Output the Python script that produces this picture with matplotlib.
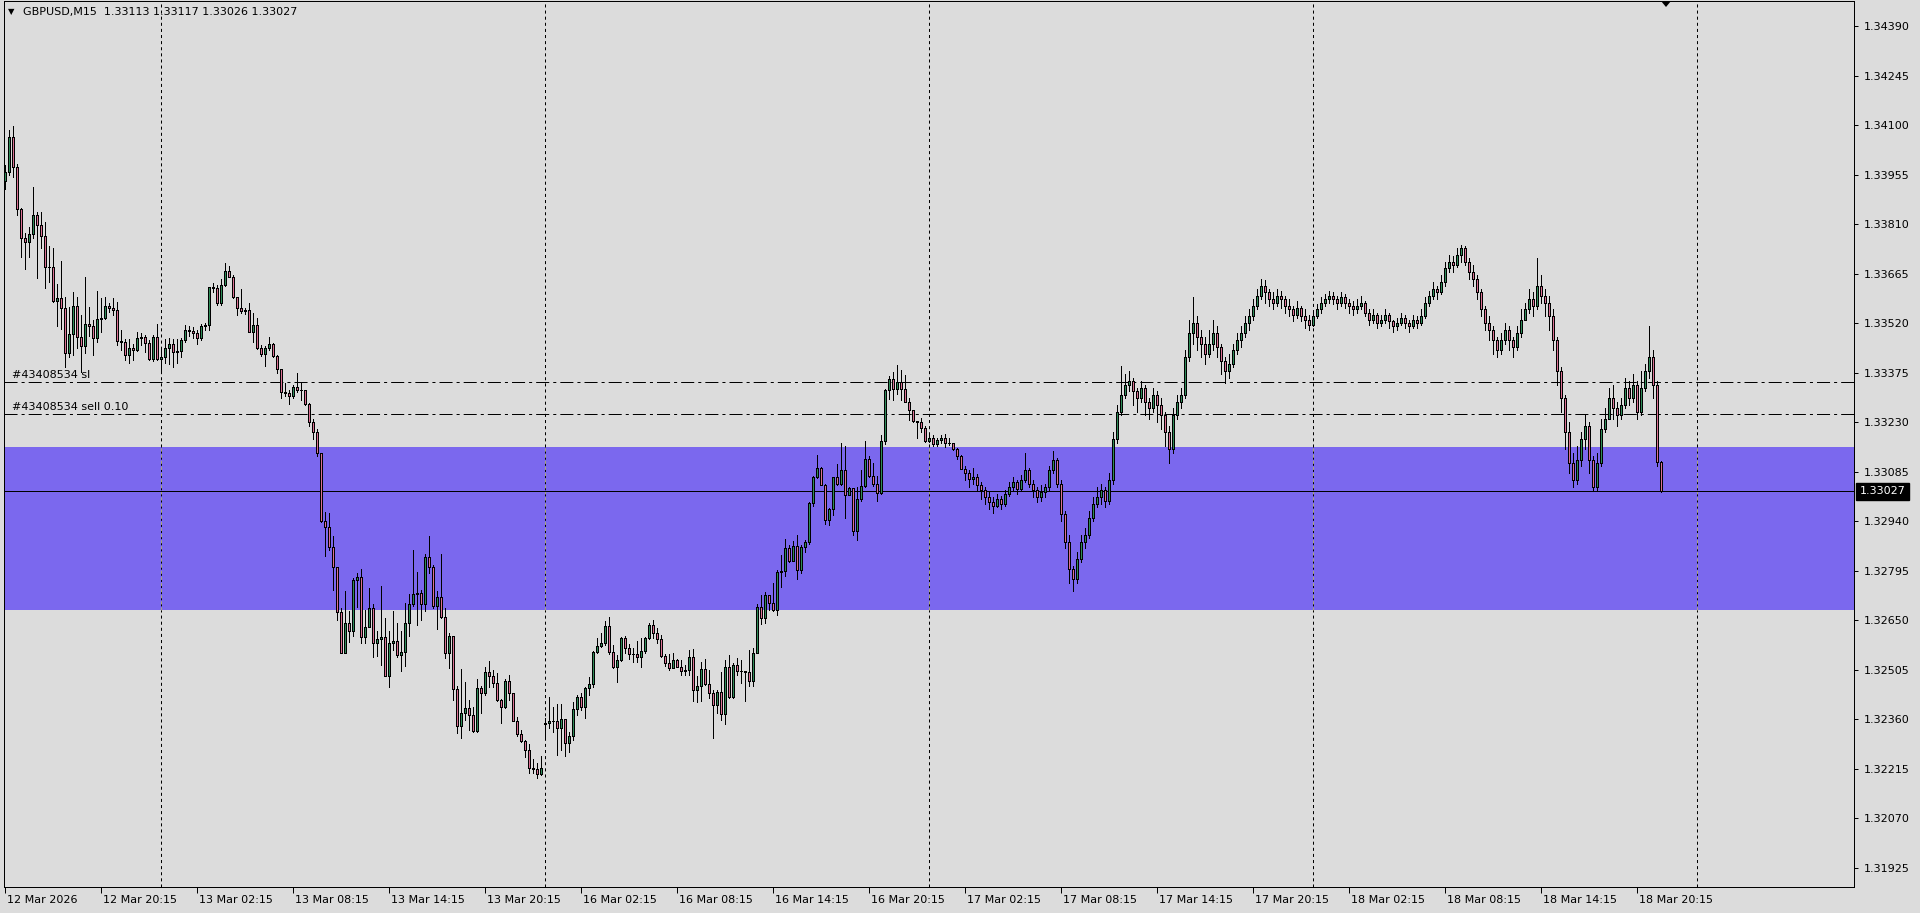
import matplotlib
matplotlib.use("Agg")
import matplotlib.pyplot as plt
from matplotlib.patches import Rectangle, Polygon
from matplotlib.collections import LineCollection, PatchCollection
import matplotlib.transforms as mtransforms

plt.rcParams['font.family'] = ['DejaVu Sans']
plt.rcParams['lines.scale_dashes'] = False

# ---------------- data ----------------
header_text = "GBPUSD,M15  1.33113 1.33117 1.33026 1.33027"
first_open = 1.33937
gap_opens = {135: 1.32345}

close_prices = [
1.33963, 1.34064, 1.33976, 1.33853, 1.33770, 1.33756, 1.33780, 1.33836, 1.33807, 1.33775,
1.33685, 1.33685, 1.33584, 1.33592, 1.33563, 1.33433, 1.33487, 1.33571, 1.33480, 1.33452,
1.33516, 1.33511, 1.33477, 1.33532, 1.33534, 1.33569, 1.33563, 1.33557, 1.33468, 1.33465,
1.33426, 1.33446, 1.33442, 1.33475, 1.33479, 1.33462, 1.33414, 1.33479, 1.33416, 1.33421,
1.33446, 1.33458, 1.33436, 1.33438, 1.33470, 1.33500, 1.33498, 1.33492, 1.33475, 1.33510,
1.33514, 1.33625, 1.33622, 1.33580, 1.33632, 1.33673, 1.33656, 1.33595, 1.33563, 1.33556,
1.33557, 1.33495, 1.33514, 1.33446, 1.33429, 1.33448, 1.33458, 1.33425, 1.33385, 1.33317,
1.33314, 1.33307, 1.33334, 1.33324, 1.33323, 1.33282, 1.33230, 1.33200, 1.33140, 1.32941,
1.32922, 1.32863, 1.32805, 1.32673, 1.32555, 1.32641, 1.32619, 1.32768, 1.32776, 1.32600,
1.32629, 1.32686, 1.32584, 1.32594, 1.32600, 1.32487, 1.32582, 1.32590, 1.32548, 1.32556,
1.32641, 1.32697, 1.32726, 1.32729, 1.32697, 1.32834, 1.32807, 1.32690, 1.32717, 1.32660,
1.32555, 1.32604, 1.32448, 1.32341, 1.32377, 1.32392, 1.32371, 1.32324, 1.32451, 1.32436,
1.32497, 1.32487, 1.32467, 1.32416, 1.32395, 1.32472, 1.32436, 1.32356, 1.32316, 1.32296,
1.32270, 1.32216, 1.32215, 1.32199, 1.32216, 1.32350, 1.32355, 1.32354, 1.32333, 1.32361,
1.32291, 1.32311, 1.32390, 1.32424, 1.32397, 1.32450, 1.32463, 1.32556, 1.32574, 1.32584,
1.32633, 1.32558, 1.32512, 1.32533, 1.32597, 1.32567, 1.32550, 1.32550, 1.32543, 1.32560,
1.32597, 1.32636, 1.32612, 1.32594, 1.32545, 1.32524, 1.32511, 1.32534, 1.32514, 1.32502,
1.32504, 1.32543, 1.32444, 1.32457, 1.32506, 1.32463, 1.32436, 1.32401, 1.32441, 1.32375,
1.32512, 1.32424, 1.32519, 1.32502, 1.32502, 1.32499, 1.32473, 1.32555, 1.32688, 1.32656,
1.32724, 1.32699, 1.32680, 1.32792, 1.32795, 1.32861, 1.32823, 1.32868, 1.32797, 1.32863,
1.32878, 1.32992, 1.33070, 1.33097, 1.33047, 1.32943, 1.32975, 1.33068, 1.33048, 1.33091,
1.33016, 1.33036, 1.32911, 1.33004, 1.33042, 1.33123, 1.33073, 1.33048, 1.33021, 1.33174,
1.33324, 1.33356, 1.33328, 1.33348, 1.33328, 1.33289, 1.33265, 1.33234, 1.33231, 1.33213,
1.33175, 1.33184, 1.33167, 1.33177, 1.33182, 1.33170, 1.33170, 1.33150, 1.33131, 1.33094,
1.33080, 1.33062, 1.33070, 1.33045, 1.33030, 1.33012, 1.32995, 1.32985, 1.33005, 1.32990,
1.33020, 1.33040, 1.33055, 1.33035, 1.33060, 1.33090, 1.33050, 1.33030, 1.33010, 1.33025,
1.33040, 1.33090, 1.33120, 1.33050, 1.32960, 1.32880, 1.32800, 1.32770, 1.32830, 1.32880,
1.32900, 1.32950, 1.32990, 1.33010, 1.33030, 1.33000, 1.33060, 1.33180, 1.33260, 1.33310,
1.33340, 1.33350, 1.33320, 1.33300, 1.33330, 1.33290, 1.33270, 1.33310, 1.33280, 1.33250,
1.33200, 1.33150, 1.33250, 1.33290, 1.33310, 1.33420, 1.33490, 1.33520, 1.33480, 1.33460,
1.33430, 1.33460, 1.33490, 1.33450, 1.33410, 1.33380, 1.33400, 1.33440, 1.33470, 1.33490,
1.33520, 1.33540, 1.33570, 1.33600, 1.33630, 1.33610, 1.33590, 1.33580, 1.33600, 1.33590,
1.33570, 1.33560, 1.33545, 1.33565, 1.33540, 1.33530, 1.33515, 1.33540, 1.33560, 1.33580,
1.33590, 1.33600, 1.33590, 1.33580, 1.33595, 1.33580, 1.33570, 1.33560, 1.33570, 1.33580,
1.33550, 1.33530, 1.33545, 1.33520, 1.33530, 1.33545, 1.33525, 1.33510, 1.33520, 1.33535,
1.33520, 1.33510, 1.33530, 1.33520, 1.33540, 1.33580, 1.33600, 1.33620, 1.33610, 1.33640,
1.33680, 1.33700, 1.33690, 1.33720, 1.33740, 1.33700, 1.33670, 1.33650, 1.33610, 1.33560,
1.33520, 1.33500, 1.33470, 1.33440, 1.33470, 1.33500, 1.33470, 1.33450, 1.33490, 1.33530,
1.33560, 1.33590, 1.33570, 1.33630, 1.33600, 1.33580, 1.33540, 1.33470, 1.33380, 1.33300,
1.33200, 1.33110, 1.33060, 1.33120, 1.33180, 1.33220, 1.33120, 1.33040, 1.33110, 1.33210,
1.33240, 1.33300, 1.33270, 1.33250, 1.33280, 1.33330, 1.33300, 1.33340, 1.33260, 1.33330,
1.33380, 1.33420, 1.33340, 1.33113, 1.33027,
]

high_prices = [
1.33983, 1.34085, 1.34097, 1.33985, 1.33856, 1.33783, 1.33802, 1.33919, 1.33846, 1.33844,
1.33817, 1.33745, 1.33741, 1.33633, 1.33702, 1.33597, 1.33568, 1.33612, 1.33597, 1.33543,
1.33654, 1.33566, 1.33529, 1.33614, 1.33593, 1.33597, 1.33578, 1.33592, 1.33582, 1.33500,
1.33473, 1.33473, 1.33460, 1.33493, 1.33490, 1.33485, 1.33470, 1.33485, 1.33517, 1.33447,
1.33472, 1.33475, 1.33474, 1.33472, 1.33475, 1.33514, 1.33511, 1.33509, 1.33500, 1.33517,
1.33521, 1.33627, 1.33638, 1.33632, 1.33648, 1.33695, 1.33687, 1.33661, 1.33597, 1.33619,
1.33563, 1.33580, 1.33549, 1.33534, 1.33456, 1.33453, 1.33478, 1.33461, 1.33427, 1.33385,
1.33344, 1.33324, 1.33339, 1.33373, 1.33346, 1.33322, 1.33285, 1.33240, 1.33210, 1.33140,
1.32968, 1.32965, 1.32895, 1.32807, 1.32685, 1.32736, 1.32678, 1.32773, 1.32787, 1.32799,
1.32680, 1.32743, 1.32698, 1.32617, 1.32750, 1.32656, 1.32617, 1.32677, 1.32641, 1.32619,
1.32700, 1.32726, 1.32856, 1.32791, 1.32739, 1.32844, 1.32895, 1.32812, 1.32734, 1.32844,
1.32685, 1.32612, 1.32604, 1.32457, 1.32506, 1.32468, 1.32416, 1.32397, 1.32477, 1.32457,
1.32514, 1.32530, 1.32504, 1.32494, 1.32418, 1.32477, 1.32489, 1.32438, 1.32367, 1.32328,
1.32299, 1.32287, 1.32242, 1.32233, 1.32252, 1.32363, 1.32426, 1.32397, 1.32404, 1.32404,
1.32360, 1.32323, 1.32411, 1.32431, 1.32436, 1.32455, 1.32484, 1.32561, 1.32597, 1.32613,
1.32648, 1.32658, 1.32577, 1.32548, 1.32602, 1.32604, 1.32579, 1.32569, 1.32589, 1.32597,
1.32602, 1.32643, 1.32651, 1.32626, 1.32607, 1.32551, 1.32551, 1.32553, 1.32536, 1.32532,
1.32519, 1.32563, 1.32565, 1.32485, 1.32526, 1.32535, 1.32504, 1.32446, 1.32444, 1.32499,
1.32532, 1.32548, 1.32524, 1.32538, 1.32532, 1.32502, 1.32563, 1.32568, 1.32698, 1.32724,
1.32732, 1.32724, 1.32758, 1.32797, 1.32841, 1.32887, 1.32870, 1.32883, 1.32900, 1.32870,
1.32885, 1.32997, 1.33073, 1.33135, 1.33099, 1.33050, 1.32977, 1.33070, 1.33106, 1.33170,
1.33161, 1.33040, 1.33038, 1.33040, 1.33089, 1.33174, 1.33131, 1.33109, 1.33073, 1.33192,
1.33328, 1.33365, 1.33377, 1.33397, 1.33382, 1.33367, 1.33301, 1.33234, 1.33233, 1.33243,
1.33219, 1.33192, 1.33192, 1.33182, 1.33192, 1.33194, 1.33182, 1.33170, 1.33153, 1.33135,
1.33100, 1.33090, 1.33095, 1.33078, 1.33055, 1.33040, 1.33025, 1.33010, 1.33020, 1.33015,
1.33030, 1.33055, 1.33070, 1.33060, 1.33075, 1.33140, 1.33095, 1.33060, 1.33040, 1.33045,
1.33050, 1.33100, 1.33145, 1.33125, 1.33060, 1.32970, 1.32900, 1.32810, 1.32850, 1.32900,
1.32920, 1.32970, 1.33010, 1.33040, 1.33050, 1.33040, 1.33080, 1.33200, 1.33280, 1.33395,
1.33370, 1.33380, 1.33360, 1.33330, 1.33350, 1.33340, 1.33300, 1.33330, 1.33320, 1.33300,
1.33260, 1.33220, 1.33270, 1.33310, 1.33330, 1.33440, 1.33530, 1.33595, 1.33540, 1.33500,
1.33480, 1.33500, 1.33530, 1.33510, 1.33460, 1.33420, 1.33430, 1.33460, 1.33490, 1.33510,
1.33540, 1.33560, 1.33590, 1.33620, 1.33650, 1.33645, 1.33620, 1.33610, 1.33620, 1.33615,
1.33600, 1.33590, 1.33570, 1.33585, 1.33570, 1.33560, 1.33545, 1.33555, 1.33575, 1.33595,
1.33605, 1.33615, 1.33610, 1.33600, 1.33610, 1.33605, 1.33590, 1.33585, 1.33590, 1.33600,
1.33585, 1.33560, 1.33560, 1.33550, 1.33545, 1.33560, 1.33550, 1.33530, 1.33535, 1.33550,
1.33545, 1.33530, 1.33545, 1.33540, 1.33560, 1.33595, 1.33615, 1.33640, 1.33630, 1.33660,
1.33700, 1.33720, 1.33715, 1.33740, 1.33750, 1.33745, 1.33710, 1.33690, 1.33660, 1.33620,
1.33570, 1.33540, 1.33510, 1.33480, 1.33490, 1.33520, 1.33510, 1.33480, 1.33510, 1.33560,
1.33580, 1.33620, 1.33610, 1.33710, 1.33660, 1.33620, 1.33600, 1.33560, 1.33480, 1.33390,
1.33310, 1.33230, 1.33140, 1.33160, 1.33200, 1.33250, 1.33230, 1.33130, 1.33140, 1.33240,
1.33270, 1.33330, 1.33340, 1.33290, 1.33300, 1.33360, 1.33350, 1.33370, 1.33350, 1.33380,
1.33400, 1.33510, 1.33440, 1.33350, 1.33117,
]

low_prices = [
1.33914, 1.33953, 1.33948, 1.33836, 1.33714, 1.33677, 1.33714, 1.33768, 1.33653, 1.33739,
1.33623, 1.33641, 1.33582, 1.33512, 1.33504, 1.33390, 1.33421, 1.33426, 1.33446, 1.33377,
1.33433, 1.33482, 1.33426, 1.33465, 1.33495, 1.33532, 1.33553, 1.33543, 1.33456, 1.33441,
1.33412, 1.33402, 1.33412, 1.33438, 1.33456, 1.33436, 1.33412, 1.33409, 1.33412, 1.33377,
1.33402, 1.33400, 1.33390, 1.33402, 1.33422, 1.33466, 1.33482, 1.33475, 1.33458, 1.33470,
1.33500, 1.33500, 1.33612, 1.33573, 1.33573, 1.33629, 1.33654, 1.33592, 1.33544, 1.33549,
1.33546, 1.33495, 1.33466, 1.33443, 1.33424, 1.33395, 1.33441, 1.33422, 1.33375, 1.33300,
1.33305, 1.33283, 1.33300, 1.33319, 1.33295, 1.33280, 1.33220, 1.33180, 1.33130, 1.32936,
1.32838, 1.32854, 1.32739, 1.32649, 1.32553, 1.32555, 1.32587, 1.32604, 1.32688, 1.32584,
1.32584, 1.32668, 1.32543, 1.32545, 1.32519, 1.32485, 1.32455, 1.32563, 1.32541, 1.32502,
1.32516, 1.32604, 1.32690, 1.32636, 1.32649, 1.32678, 1.32789, 1.32685, 1.32623, 1.32655,
1.32540, 1.32509, 1.32415, 1.32319, 1.32304, 1.32358, 1.32329, 1.32321, 1.32321, 1.32379,
1.32431, 1.32453, 1.32453, 1.32414, 1.32350, 1.32392, 1.32416, 1.32354, 1.32311, 1.32294,
1.32250, 1.32203, 1.32201, 1.32187, 1.32197, 1.32309, 1.32333, 1.32323, 1.32255, 1.32270,
1.32253, 1.32265, 1.32299, 1.32372, 1.32387, 1.32363, 1.32431, 1.32455, 1.32553, 1.32572,
1.32577, 1.32551, 1.32509, 1.32470, 1.32530, 1.32553, 1.32535, 1.32526, 1.32528, 1.32514,
1.32553, 1.32594, 1.32597, 1.32582, 1.32543, 1.32516, 1.32504, 1.32509, 1.32512, 1.32490,
1.32490, 1.32490, 1.32412, 1.32409, 1.32414, 1.32460, 1.32421, 1.32304, 1.32377, 1.32358,
1.32346, 1.32421, 1.32421, 1.32490, 1.32467, 1.32412, 1.32457, 1.32457, 1.32553, 1.32639,
1.32643, 1.32680, 1.32678, 1.32665, 1.32746, 1.32780, 1.32819, 1.32824, 1.32770, 1.32787,
1.32850, 1.32872, 1.32985, 1.33065, 1.33045, 1.32933, 1.32928, 1.32959, 1.33045, 1.33045,
1.32950, 1.33016, 1.32899, 1.32884, 1.32999, 1.33040, 1.33070, 1.33043, 1.33000, 1.33018,
1.33167, 1.33299, 1.33294, 1.33311, 1.33294, 1.33289, 1.33236, 1.33231, 1.33182, 1.33202,
1.33172, 1.33172, 1.33161, 1.33161, 1.33170, 1.33158, 1.33162, 1.33148, 1.33121, 1.33094,
1.33060, 1.33040, 1.33050, 1.33030, 1.33005, 1.32990, 1.32975, 1.32965, 1.32980, 1.32975,
1.32985, 1.33015, 1.33030, 1.33020, 1.33030, 1.33055, 1.33040, 1.33010, 1.32995, 1.33000,
1.33010, 1.33030, 1.33080, 1.33040, 1.32940, 1.32860, 1.32760, 1.32735, 1.32760, 1.32820,
1.32860, 1.32890, 1.32940, 1.32980, 1.32990, 1.32980, 1.32990, 1.33050, 1.33170, 1.33250,
1.33300, 1.33320, 1.33280, 1.33260, 1.33290, 1.33250, 1.33240, 1.33260, 1.33230, 1.33210,
1.33160, 1.33110, 1.33140, 1.33240, 1.33270, 1.33300, 1.33410, 1.33460, 1.33440, 1.33420,
1.33400, 1.33420, 1.33440, 1.33420, 1.33370, 1.33345, 1.33360, 1.33390, 1.33430, 1.33450,
1.33480, 1.33500, 1.33530, 1.33560, 1.33590, 1.33580, 1.33570, 1.33560, 1.33570, 1.33565,
1.33550, 1.33540, 1.33525, 1.33535, 1.33525, 1.33505, 1.33500, 1.33510, 1.33535, 1.33550,
1.33570, 1.33580, 1.33575, 1.33560, 1.33570, 1.33565, 1.33550, 1.33545, 1.33550, 1.33560,
1.33540, 1.33515, 1.33520, 1.33505, 1.33510, 1.33520, 1.33505, 1.33495, 1.33500, 1.33515,
1.33505, 1.33495, 1.33505, 1.33505, 1.33515, 1.33535, 1.33570, 1.33590, 1.33590, 1.33605,
1.33630, 1.33670, 1.33670, 1.33685, 1.33700, 1.33690, 1.33650, 1.33630, 1.33590, 1.33540,
1.33500, 1.33470, 1.33430, 1.33420, 1.33430, 1.33460, 1.33440, 1.33420, 1.33440, 1.33480,
1.33530, 1.33550, 1.33540, 1.33560, 1.33580, 1.33540, 1.33500, 1.33440, 1.33340, 1.33260,
1.33150, 1.33080, 1.33040, 1.33050, 1.33100, 1.33150, 1.33080, 1.33030, 1.33030, 1.33100,
1.33200, 1.33240, 1.33240, 1.33220, 1.33240, 1.33270, 1.33280, 1.33290, 1.33240, 1.33250,
1.33320, 1.33360, 1.33300, 1.33100, 1.33026,
]

x_tick_index = [0, 24, 48, 72, 96, 120, 144, 168, 192, 216, 240, 264, 288, 312, 336, 360, 384, 408]
x_tick_labels = ["12 Mar 2026", "12 Mar 20:15", "13 Mar 02:15", "13 Mar 08:15", "13 Mar 14:15",
                 "13 Mar 20:15", "16 Mar 02:15", "16 Mar 08:15", "16 Mar 14:15", "16 Mar 20:15",
                 "17 Mar 02:15", "17 Mar 08:15", "17 Mar 14:15", "17 Mar 20:15", "18 Mar 02:15",
                 "18 Mar 08:15", "18 Mar 14:15", "18 Mar 20:15"]
day_separator_index = [39, 135, 231, 327, 423]
y_ticks = [1.31925, 1.32070, 1.32215, 1.32360, 1.32505, 1.32650, 1.32795, 1.32940, 1.33085,
           1.33230, 1.33375, 1.33520, 1.33665, 1.33810, 1.33955, 1.34100, 1.34245, 1.34390]
zone_low, zone_high = 1.32680, 1.33158
order_lines = [(1.33347, "#43408534 sl"), (1.33254, "#43408534 sell 0.10")]
last_price = 1.33027

# ---------------- style ----------------
BG = '#dcdcdc'
BULL = '#2e8b57'
BEAR = '#db7093'
ZONE = '#7b68ee'
PX = 0.72  # one pixel in points at 100 dpi

W, Hh = 1920, 913
fig = plt.figure(figsize=(19.2, 9.13), dpi=100, facecolor=BG)
ax = fig.add_axes([4 / W, (Hh - 887) / Hh, 1850 / W, 886 / Hh])
ax.set_facecolor(BG)
ax.set_xlim(-0.25, 462.25)
ax.set_ylim(1.318685, 1.344632)

n = len(close_prices)
opens = []
prev = first_open
for i in range(n):
    o = gap_opens.get(i, prev if i > 0 else first_open)
    opens.append(o)
    prev = close_prices[i]

# zone rectangle
ax.axhspan(zone_low, zone_high, color=ZONE, zorder=0.5, lw=0)

# day separators
for d in day_separator_index:
    ax.axvline(d, color='black', lw=PX, dashes=(2.2, 2.2), zorder=1)
    ax.vlines(d, zone_low, zone_high, color='#a8a47a', lw=PX, linestyles=(0, (2.2, 2.2)), zorder=1.1)

# order lines
for price, label in order_lines:
    ax.axhline(price, color='black', lw=PX, dashes=(9.4, 2.9, 2.2, 2.9), zorder=1)
    ax.annotate(label, xy=(1.75, price), xytext=(0, 2), textcoords='offset pixels',
                fontsize=8, va='bottom', ha='left', color='black', zorder=5)

# current price line
ax.axhline(last_price, color='black', lw=PX, zorder=2)

# candles
wicks = [[(i, low_prices[i]), (i, high_prices[i])] for i in range(n)]
ax.add_collection(LineCollection(wicks, colors='black', linewidths=PX, zorder=3, antialiased=False))
bodies, faces = [], []
for i in range(n):
    o, c = opens[i], close_prices[i]
    bodies.append(Rectangle((i - 0.27, min(o, c)), 0.54, abs(c - o)))
    faces.append(BULL if c >= o else BEAR)
ax.add_collection(PatchCollection(bodies, facecolors=faces, edgecolors='black',
                                  linewidths=PX, zorder=4, antialiased=False))

# axes styling
for s in ax.spines.values():
    s.set_color('black')
    s.set_linewidth(PX)
ax.yaxis.tick_right()
ax.set_yticks(y_ticks)
ax.set_yticklabels([f"{v:.5f}" for v in y_ticks])
ax.tick_params(axis='y', direction='out', length=3, width=PX, pad=4, labelsize=8, colors='black')
ax.set_xticks(x_tick_index)
ax.set_xticklabels(x_tick_labels)
ax.tick_params(axis='x', direction='out', length=4, width=PX, pad=2, labelsize=8, colors='black')
offset = mtransforms.ScaledTranslation(2 / 100, 0, fig.dpi_scale_trans)
for lab in ax.get_xticklabels():
    lab.set_horizontalalignment('left')
    lab.set_transform(lab.get_transform() + offset)

# last price tag
trans = mtransforms.blended_transform_factory(ax.transAxes, ax.transData)
ax.annotate(f"{last_price:.5f}", xy=(1.0, last_price), xycoords=trans, xytext=(6, 0),
            textcoords='offset pixels', fontsize=8, color='white', va='center', ha='left',
            bbox=dict(boxstyle='square,pad=0.32', fc='black', ec='black'), annotation_clip=False)

# header
fig.text(8 / W, 1 - 11.5 / Hh, "\u25BC", fontsize=6, va='center', ha='left', color='black')
fig.text(23 / W, 1 - 11.5 / Hh, header_text, fontsize=8, va='center', ha='left', color='black')

# chart shift marker
fig.add_artist(Polygon([(1661, Hh - 1), (1671, Hh - 1), (1666, Hh - 7)], closed=True,
                       transform=None, facecolor='black', edgecolor='none'))

fig.savefig("out.png", dpi=100, facecolor=BG)
